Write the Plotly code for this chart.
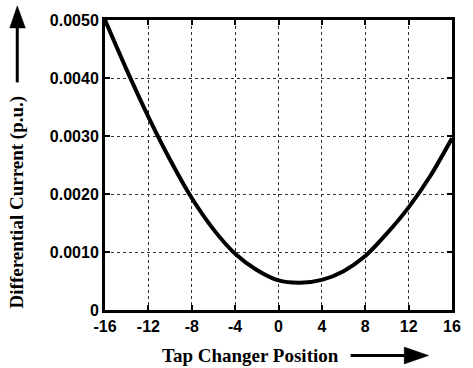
import plotly.graph_objects as go

tap_position = [-16, -14, -12, -10, -8, -6, -4, -2, 0, 2, 4, 6, 8, 10, 12, 14, 16]
diff_current = [0.00500, 0.00414, 0.00333, 0.00259, 0.00193, 0.00139, 0.00097, 0.00069,
                0.00051, 0.00047, 0.00052, 0.00067, 0.00093, 0.00132, 0.00177, 0.00231, 0.00296]

x_ticks = [-16, -12, -8, -4, 0, 4, 8, 12, 16]
y_ticks = [0, 0.001, 0.002, 0.003, 0.004, 0.005]
y_tick_labels = ["0", "0.0010", "0.0020", "0.0030", "0.0040", "0.0050"]

W, H = 473, 368
L, R, T, B = 105, 12, 17, 58
PW, PH = W - L - R, H - T - B

def px(xp):
    return (xp - L) / PW

def py(yp):
    return (H - B - yp) / PH

fig = go.Figure()
fig.add_trace(go.Scatter(x=tap_position, y=diff_current, mode="lines",
                         line=dict(color="black", width=4, shape="spline", smoothing=0.7),
                         showlegend=False))

tick_font = dict(family="Liberation Sans, Arial", size=16, color="black", weight="bold")
axis_common = dict(showline=True, linewidth=3, linecolor="black", mirror="ticks",
                   ticks="inside", ticklen=5, tickwidth=2, tickcolor="black",
                   showgrid=True, gridcolor="#333333", gridwidth=1, griddash="dot",
                   zeroline=False, tickfont=tick_font)

fig.update_xaxes(range=[-16, 16], tickvals=x_ticks, ticktext=[str(v) for v in x_ticks], **axis_common)
fig.update_yaxes(range=[0, 0.005], tickvals=y_ticks, ticktext=y_tick_labels, **axis_common)

title_font = dict(family="Liberation Serif, Times New Roman", size=19, color="black")
annotations = [
    dict(text="<b>Tap Changer Position</b>", x=px(254), y=py(356), xref="paper", yref="paper",
         showarrow=False, font=title_font, xanchor="center", yanchor="middle"),
    dict(text="<b>Differential Current (p.u.)</b>", x=px(15), y=py(201), xref="paper", yref="paper",
         showarrow=False, font=title_font, textangle=-90, xanchor="center", yanchor="middle"),
]

shapes = [
    # y-axis arrow
    dict(type="line", xref="paper", yref="paper", x0=px(15), x1=px(15), y0=py(80), y1=py(24),
         line=dict(color="black", width=3)),
    dict(type="path", xref="paper", yref="paper",
         path=f"M {px(15)} {py(2.7)} L {px(7.3)} {py(25)} L {px(23.3)} {py(25)} Z",
         fillcolor="black", line=dict(color="black", width=0.5)),
    # x-axis arrow
    dict(type="line", xref="paper", yref="paper", x0=px(357), x1=px(413), y0=py(356), y1=py(356),
         line=dict(color="black", width=3)),
    dict(type="path", xref="paper", yref="paper",
         path=f"M {px(437)} {py(356)} L {px(412)} {py(347.5)} L {px(412)} {py(364.5)} Z",
         fillcolor="black", line=dict(color="black", width=0.5)),
]

fig.update_layout(width=W, height=H, margin=dict(l=L, r=R, t=T, b=B),
                  paper_bgcolor="white", plot_bgcolor="white",
                  annotations=annotations, shapes=shapes)

fig.write_html("out.html")
